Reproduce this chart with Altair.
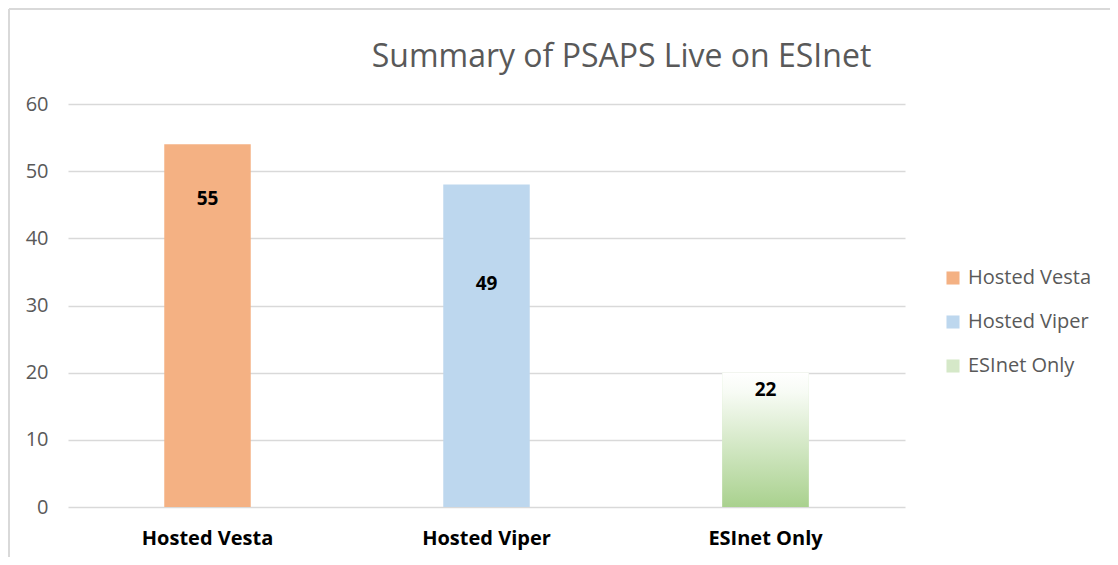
import altair as alt
import pandas as pd

categories = ["Hosted Vesta", "Hosted Viper", "ESInet Only"]
bar_values = [54, 48, 20]
label_texts = ["55", "49", "22"]
label_values = [45.8, 33.2, 17.4]
colors = ["#F4B183", "#BDD7EE", "#D5E8C8"]

df = pd.DataFrame({
    "cat": categories,
    "value": bar_values,
    "label": label_texts,
    "label_y": label_values,
})

FONT = "Open Sans"

x = alt.X("cat:N", sort=categories, title=None,
          scale=alt.Scale(paddingInner=0.69, paddingOuter=0.345),
          axis=alt.Axis(labelAngle=0, labelFontWeight="bold", labelColor="#000000",
                        labelFontSize=20, labelFont=FONT, domain=False, ticks=False,
                        labelPadding=21))
y = alt.Y("value:Q", title=None,
          scale=alt.Scale(domain=[0, 60]),
          axis=alt.Axis(values=[0, 10, 20, 30, 40, 50, 60], labelColor="#595959",
                        labelFontSize=20, labelFont=FONT, domain=False, ticks=False,
                        labelPadding=20, gridColor="#D9D9D9", gridWidth=1.5))

bars = alt.Chart(df).mark_bar().encode(
    x=x,
    y=y,
    color=alt.Color("cat:N", sort=categories,
                    scale=alt.Scale(domain=categories, range=colors),
                    legend=alt.Legend(title=None, orient="none", legendX=875, legendY=164,
                                      symbolType="square", symbolSize=170,
                                      symbolStrokeWidth=0, labelFontSize=20,
                                      labelFont=FONT, labelColor="#595959",
                                      rowPadding=24, labelOffset=5)),
)

gradient = {
    "gradient": "linear",
    "x1": 0, "y1": 0, "x2": 0, "y2": 1,
    "stops": [
        {"offset": 0, "color": "#FFFFFF"},
        {"offset": 0.15, "color": "#F7FBF4"},
        {"offset": 1, "color": "#A9D18E"},
    ],
}

esinet = alt.Chart(df).transform_filter(alt.datum.cat == "ESInet Only").mark_bar(
    color=gradient
).encode(x=alt.X("cat:N", sort=categories), y=alt.Y("value:Q"))

labels = alt.Chart(df).mark_text(
    font=FONT, fontSize=19, fontWeight="bold", color="#000000", baseline="middle"
).encode(x=alt.X("cat:N", sort=categories), y=alt.Y("label_y:Q"), text="label:N")

frame_left = alt.Chart(df).mark_rule(color="#D9D9D9", strokeWidth=1.5, clip=False).encode(
    x=alt.value(-59), y=alt.value(-95), y2=alt.value(460))
frame_top = alt.Chart(df).mark_rule(color="#D9D9D9", strokeWidth=1.5, clip=False).encode(
    x=alt.value(-59), x2=alt.value(1050), y=alt.value(-95))

chart = alt.layer(bars, esinet, labels, frame_left, frame_top).properties(
    width=837,
    height=403,
    autosize=alt.AutoSizeParams(type="none"),
    padding={"left": 60, "top": 96, "right": 205, "bottom": 50},
    title=alt.Title("Summary of PSAPS Live on ESInet", font=FONT, fontSize=32,
                    fontWeight="normal", color="#595959", anchor="middle",
                    frame="group", dx=135, offset=0, dy=66),
).configure_view(stroke=None)

chart.save("out.html", embed_options={"renderer": "svg", "actions": False})
